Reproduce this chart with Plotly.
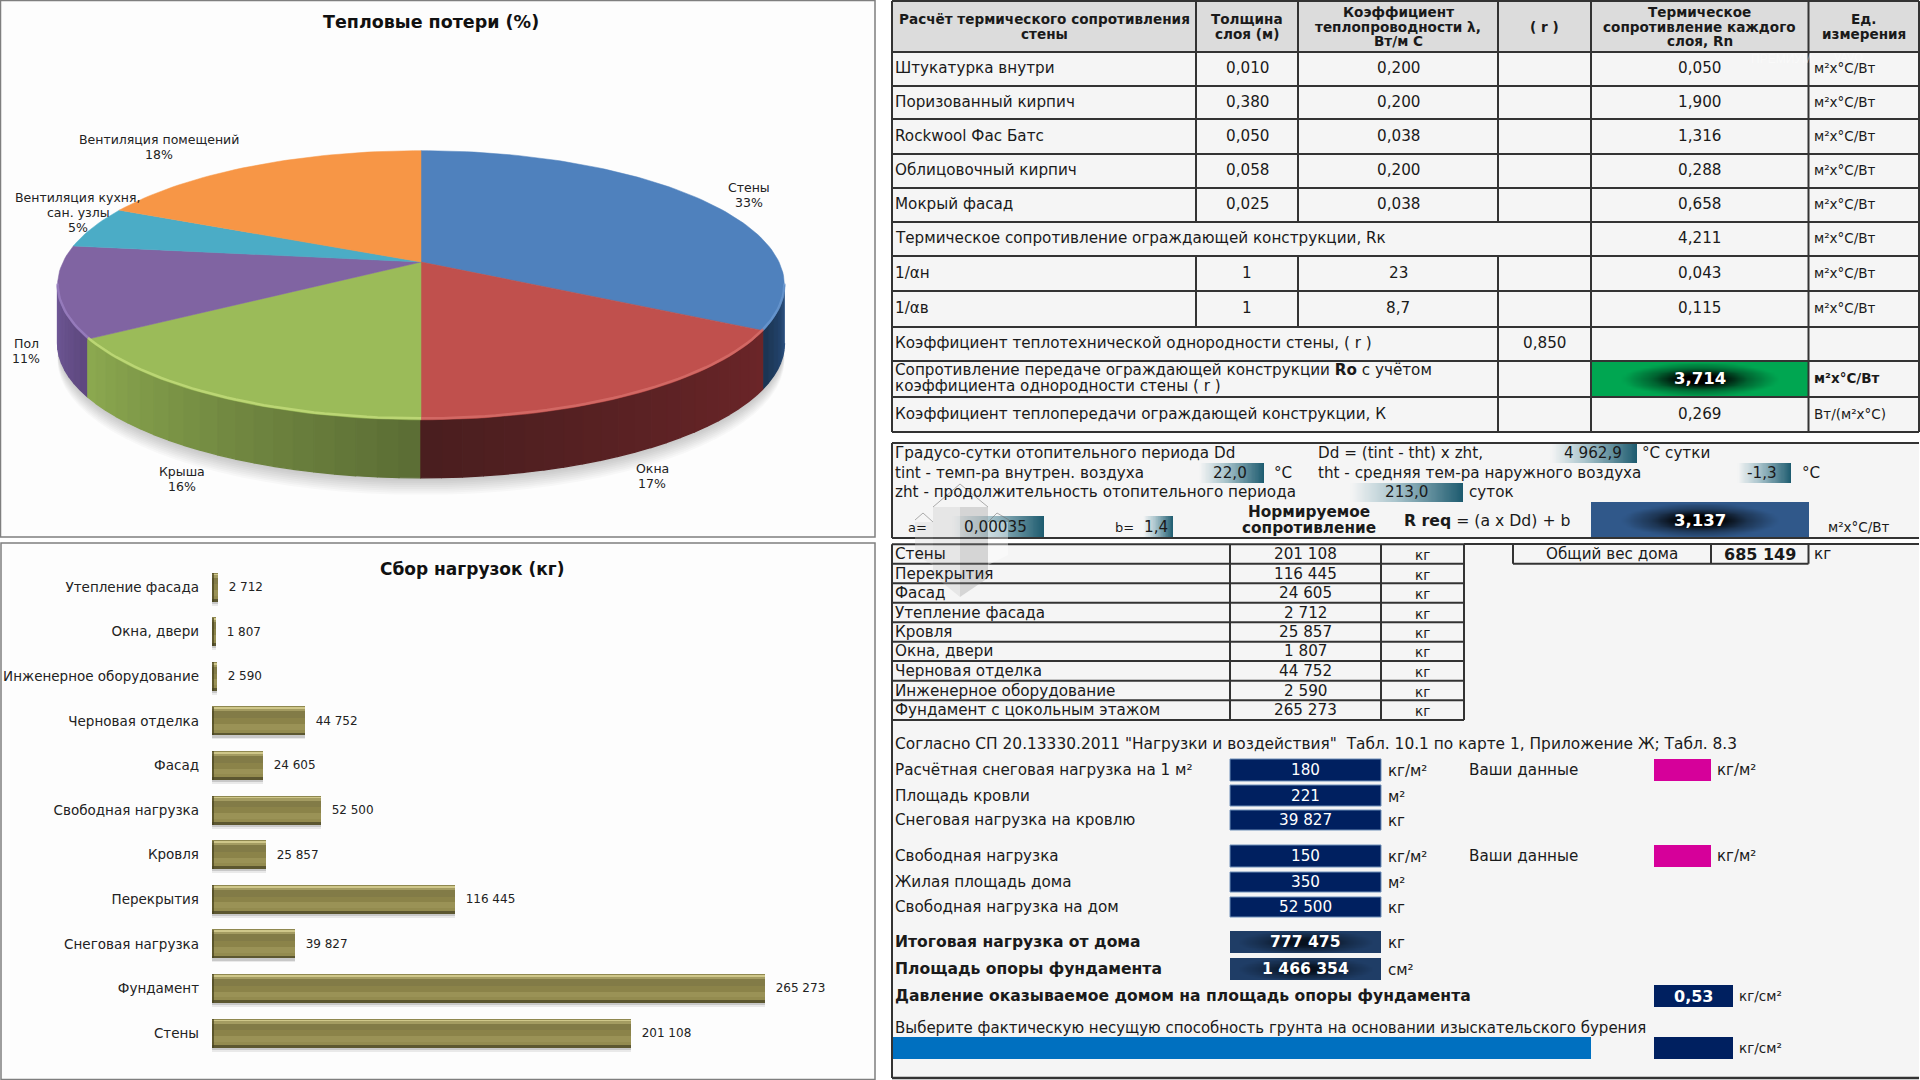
import math
import plotly.graph_objects as go

# ---------- data ----------
pie_labels = ["Стены", "Окна", "Крыша", "Пол", "Вентиляция кухня,<br>сан. узлы", "Вентиляция помещений"]
pie_values = [33, 17, 16, 11, 5, 18]

load_categories = ["Утепление фасада", "Окна, двери", "Инженерное оборудование", "Черновая отделка", "Фасад",
                   "Свободная нагрузка", "Кровля", "Перекрытия", "Снеговая нагрузка", "Фундамент", "Стены"]
load_values = [2712, 1807, 2590, 44752, 24605, 52500, 25857, 116445, 39827, 265273, 201108]

table_header = ["Расчёт термического сопротивления<br>стены", "Толщина<br>слоя (м)",
                "Коэффициент<br>теплопроводности λ,<br>Вт/м С", "( r )",
                "Термическое<br>сопротивление каждого<br>слоя, Rn", "Ед.<br>измерения"]
layer_names = ["Штукатурка внутри", "Поризованный кирпич", "Rockwool Фас Батс", "Облицовочный кирпич", "Мокрый фасад"]
layer_thickness = ["0,010", "0,380", "0,050", "0,058", "0,025"]
layer_lambda = ["0,200", "0,200", "0,038", "0,200", "0,038"]
layer_resistance = ["0,050", "1,900", "1,316", "0,288", "0,658"]
unit_r = "м²х°С/Вт"

weight_names = ["Стены", "Перекрытия", "Фасад", "Утепление фасада", "Кровля", "Окна, двери", "Черновая отделка",
                "Инженерное оборудование", "Фундамент с цокольным этажом"]
weight_values = ["201 108", "116 445", "24 605", "2 712", "25 857", "1 807", "44 752", "2 590", "265 273"]

# ---------- layout constants ----------
FONT = "DejaVu Sans"
INK = "#1a1a1a"
LINE = "#333333"
CELL = "#f5f5f5"
NAVY = "#002060"
BODY = 15.2
UNIT = 13.5

shapes, annotations, traces = [], [], []


def text(x, y, s, size=BODY, anchor="left", color=INK, lh=16, bold=False):
    lines = s.split("<br>")
    y0 = y - lh * (len(lines) - 1) / 2
    for i, ln in enumerate(lines):
        t = f"<b>{ln}</b>" if bold else ln
        annotations.append(dict(x=x, y=y0 + i * lh, xref="x", yref="y", text=t, showarrow=False, xanchor=anchor,
                                yanchor="middle", align=anchor,
                                font=dict(family=FONT, size=size, color=color)))


def rect(x0, y0, x1, y1, fill=None, line=None, width=2, layer="below"):
    shapes.append(dict(type="rect", xref="x", yref="y", x0=x0, y0=y0, x1=x1, y1=y1, layer=layer,
                       fillcolor=fill or "rgba(0,0,0,0)",
                       line=dict(color=line or "rgba(0,0,0,0)", width=width if line else 0)))


def hline(x0, x1, y, width=2, color=LINE):
    shapes.append(dict(type="line", xref="x", yref="y", x0=x0, x1=x1, y0=y, y1=y, layer="above",
                       line=dict(color=color, width=width)))


def vline(x, y0, y1, width=2, color=LINE):
    shapes.append(dict(type="line", xref="x", yref="y", x0=x, x1=x, y0=y0, y1=y1, layer="above",
                       line=dict(color=color, width=width)))


def hex2(c):
    c = c.lstrip("#")
    return [int(c[i:i + 2], 16) for i in (0, 2, 4)]


def mix(a, b, t):
    a, b = hex2(a), hex2(b)
    return "rgb(%d,%d,%d)" % tuple(round(a[i] + (b[i] - a[i]) * t) for i in range(3))


def gradient(x0, y0, x1, y1, zfun, scale, nx=48, ny=16):
    xs = [x0 + (i + 0.5) * (x1 - x0) / nx for i in range(nx)]
    ys = [y0 + (j + 0.5) * (y1 - y0) / ny for j in range(ny)]
    z = [[zfun((i + 0.5) / nx, (j + 0.5) / ny) for i in range(nx)] for j in range(ny)]
    traces.append(go.Heatmap(x=xs, y=ys, z=z, zmin=0, zmax=1, colorscale=scale, showscale=False, zsmooth="best",
                             hoverinfo="skip"))


def teal(x0, y0, x1, y1):
    gradient(x0, y0, x1, y1, lambda u, v: u, [[0, CELL], [0.4, "#a9c4cc"], [1, "#1c5a6e"]], ny=2)


def glow(x0, y0, x1, y1, edge, mid="#000000", rx=0.72, ry=0.95):
    def f(u, v):
        return min(1.0, math.sqrt(((u - 0.5) * 2 / rx) ** 2 + ((v - 0.5) * 2 / ry) ** 2))
    gradient(x0, y0, x1, y1, f, [[0, mid], [0.25, mid], [0.62, mix(mid, edge, 0.6)], [1, edge]])


# ---------- panels ----------
rect(0.5, 0.5, 875, 537, "#fdfdfd", "#7f7f7f", 1.5)
rect(1, 543, 875, 1079.5, "#fdfdfd", "#7f7f7f", 1.5)

# ---------- pie ----------
CX, CY, SX, SY, K, DEPTH = 421, 262, 358, 130.6, 0.1727, 58
VIS0, VIS1 = 27.75, 72.25


def proj(p, dy=0):
    th = 2 * math.pi * p / 100
    u, v = math.sin(th), math.cos(th)
    w = 1 + K * v
    return CX + SX * u / w, CY - SY * v / w + dy


def frange(a, b, step):
    n = max(1, int(math.ceil((b - a) / step)))
    return [a + (b - a) * i / n for i in range(n + 1)]


def poly(xs, ys, color, lw=0.6):
    traces.append(go.Scatter(x=xs, y=ys, mode="lines", fill="toself", fillcolor=color,
                             line=dict(color=color, width=lw), hoverinfo="skip"))


top_colors = ["#4f81bd", "#c0504d", "#9bbb59", "#8064a2", "#4bacc6", "#f79646"]
wall_start = ["#2a5080", "#6b2528", "#5c6e35", "#5f4880", "#2f7a90", "#b06a28"]
wall_end = ["#1b3554", "#4a1e1f", "#8ba84f", "#705a98", "#2f7a90", "#b06a28"]
rim_colors = ["#6c9ad2", "#d9716c", "#c6df7d", "#9c82c4", "#4bacc6", "#f79646"]

# shadow
all_pct = frange(0, 100, 1)
for i in range(1, 10):
    xs, ys = zip(*[proj(p, DEPTH + i * 1.9) for p in all_pct])
    poly(list(xs), list(ys), "rgba(0,0,0,0.022)", 0)

cum = [0]
for val in pie_values:
    cum.append(cum[-1] + val)

# walls: colour strips, painted from the silhouettes towards the front
strips = []
for i in range(len(pie_values)):
    a, b = max(cum[i], VIS0), min(cum[i + 1], VIS1)
    if a >= b:
        continue
    pts = frange(a, b, 0.8)
    for j in range(len(pts) - 1):
        t = j / max(1, len(pts) - 2)
        strips.append((pts[j], pts[j + 1], mix(wall_start[i], wall_end[i], t)))
strips.sort(key=lambda s: -abs((s[0] + s[1]) / 2 - 50))
for a, b, col in strips:
    top = [proj(a), proj(b)]
    bot = [proj(b, DEPTH), proj(a, DEPTH)]
    poly([q[0] for q in top + bot], [q[1] for q in top + bot], col, 1.4)

# top faces
for i in range(len(pie_values)):
    arc = [proj(p) for p in frange(cum[i], cum[i + 1], 0.4)]
    xs = [CX] + [q[0] for q in arc] + [CX]
    ys = [CY] + [q[1] for q in arc] + [CY]
    poly(xs, ys, top_colors[i], 0.5)

# rim highlight
for i in range(len(pie_values)):
    a, b = max(cum[i], VIS0), min(cum[i + 1], VIS1)
    if a >= b:
        continue
    arc = [proj(p, -1.5) for p in frange(a, b, 0.4)]
    traces.append(go.Scatter(x=[q[0] for q in arc], y=[q[1] for q in arc], mode="lines", opacity=0.75,
                             line=dict(color=rim_colors[i], width=2.5), hoverinfo="skip"))

text(431, 22, "Тепловые потери (%)", 17.5, "center", "#111111", bold=True)
pie_label_pos = [(749, 195), (652, 476), (182, 479), (26, 351), (78, 212), (159, 147)]
for lab, val, (px, py) in zip(pie_labels, pie_values, pie_label_pos):
    text(px, py, f"{lab}<br>{val}%", 12.5, "center", "#222222", lh=15)

# ---------- bars ----------
text(472, 569, "Сбор нагрузок (кг)", 17, "center", "#111111", bold=True)
value_text = ["  " + f"{v:,}".replace(",", " ") for v in load_values]
bands = [(0.0, 0.04, "#8f8850"), (0.04, 0.1, "#cfc78a"), (0.1, 0.16, "#a49c62"), (0.16, 0.4, "#827b47"),
         (0.4, 0.6, "#8b8349"), (0.6, 0.8, "#9a9256"), (0.8, 0.9, "#938b4f"), (0.9, 1.0, "#5c5730")]
H = 0.64
bar_traces = []
for off, wid, alpha in [(0.32, 0.09, 0.08), (0.32, 0.05, 0.14)]:
    bar_traces.append(go.Bar(y=load_categories, x=load_values, orientation="h", xaxis="x2", yaxis="y2",
                             width=wid, offset=off, marker=dict(color=f"rgba(0,0,0,{alpha})", line=dict(width=0)),
                             hoverinfo="skip"))
bar_traces.append(go.Bar(y=load_categories, x=load_values, orientation="h", xaxis="x2", yaxis="y2",
                         width=H, offset=-H / 2, marker=dict(color="#8b8450", line=dict(width=0)),
                         text=value_text, textposition="outside", cliponaxis=False, constraintext="none",
                         textfont=dict(family=FONT, size=12, color="#222222"), hoverinfo="skip"))
for f0, f1, col in bands:
    bar_traces.append(go.Bar(y=load_categories, x=load_values, orientation="h", xaxis="x2", yaxis="y2",
                             width=(f1 - f0) * H, offset=-H / 2 + f0 * H, marker=dict(color=col, line=dict(width=0)),
                             hoverinfo="skip"))
bar_traces.append(go.Bar(y=load_categories, x=[min(v, 1000) for v in load_values], orientation="h",
                         xaxis="x2", yaxis="y2", width=H, offset=-H / 2,
                         marker=dict(color="rgba(70,65,30,0.7)", line=dict(width=0)), hoverinfo="skip"))

# ---------- main table ----------
CX_L = [892, 1196, 1298, 1498, 1591, 1808.5, 1919]
RY = [1, 52, 86, 119, 154, 188, 222, 256, 291, 327, 361, 397, 432]
COLC = [(CX_L[i] + CX_L[i + 1]) / 2 for i in range(6)]
TX = 893
rect(CX_L[0], RY[0], CX_L[-1], RY[1], "#dcdcdc")
rect(CX_L[0], RY[1], CX_L[-1], RY[-1], CELL)
glow(CX_L[4], RY[10], CX_L[5], RY[11], "#00a651")
for y in RY:
    hline(CX_L[0], CX_L[-1], y)
merged = {6: [0, 4, 5, 6], 9: [0, 3, 4, 5, 6], 10: [0, 3, 4, 5, 6], 11: [0, 3, 4, 5, 6]}
for r in range(12):
    for c in merged.get(r, range(7)):
        vline(CX_L[c], RY[r], RY[r + 1])

hdr_y = (RY[0] + RY[1]) / 2
for c, h in enumerate(table_header):
    text(COLC[c], hdr_y, h, 13.6, "center", lh=14.3, bold=True)


def ry(r):
    return (RY[r] + RY[r + 1]) / 2 - 1


for i in range(5):
    text(TX, ry(i + 1), layer_names[i])
    text(COLC[1], ry(i + 1), layer_thickness[i], BODY, "center")
    text(COLC[2], ry(i + 1), layer_lambda[i], BODY, "center")
    text(COLC[4], ry(i + 1), layer_resistance[i], BODY, "center")
    text(CX_L[5] + 3, ry(i + 1), unit_r, UNIT)
text(TX, ry(6), "Термическое сопротивление ограждающей конструкции, Rк")
text(COLC[4], ry(6), "4,211", BODY, "center")
text(CX_L[5] + 3, ry(6), unit_r, UNIT)
for r, nm, a, b, res in [(7, "1/αн", "1", "23", "0,043"), (8, "1/αв", "1", "8,7", "0,115")]:
    text(TX, ry(r), nm)
    text(COLC[1], ry(r), a, BODY, "center")
    text(COLC[2], ry(r), b, BODY, "center")
    text(COLC[4], ry(r), res, BODY, "center")
    text(CX_L[5] + 3, ry(r), unit_r, UNIT)
text(TX, ry(9), "Коэффициент теплотехнической однородности стены, ( r )")
text(COLC[3], ry(9), "0,850", BODY, "center")
text(TX, ry(10), "Сопротивление передаче ограждающей конструкции <b>Ro</b> с учётом<br>коэффициента однородности стены ( r )")
text(COLC[4], ry(10), "3,714", 16.5, "center", "#ffffff", bold=True)
text(CX_L[5] + 3, ry(10), unit_r, UNIT, bold=True)
text(TX, ry(11), "Коэффициент теплопередачи ограждающей конструкции, К")
text(COLC[4], ry(11), "0,269", BODY, "center")
text(CX_L[5] + 3, ry(11), "Вт/(м²х°С)", UNIT)

# ---------- degree-day panel ----------
rect(892, 443, 1919, 538, CELL, None)
teal(1550, 443, 1637, 463)
teal(1199, 463, 1264, 483)
teal(1737, 463, 1791, 483)
teal(1350, 483, 1463, 502)
teal(952, 516, 1044, 538)
teal(1143, 516, 1173, 538)
glow(1591, 502, 1808.5, 538, "#30588a")
hline(892, 1919, 443)
hline(892, 1919, 538)
vline(892, 443, 538)
text(TX, 453, "Градусо-сутки отопительного периода Dd")
text(1316, 453, "Dd = (tint - tht) x zht,")
text(1593, 453, "4 962,9", BODY, "center")
text(1640, 453, "°С сутки")
text(TX, 473, "tint - темп-ра внутрен. воздуха")
text(1230, 473, "22,0", BODY, "center")
text(1272, 473, "°С")
text(1316, 473, "tht - средняя тем-ра наружного воздуха")
text(1762, 473, "-1,3", BODY, "center")
text(1800, 473, "°С")
text(TX, 492, "zht - продолжительность отопительного периода")
text(1406, 492, "213,0", BODY, "center")
text(1467, 492, "суток")
text(906, 527, "a=", 13)
text(995, 527, "0,00035", BODY, "center")
text(1113, 527, "b=", 13)
text(1156, 527, "1,4", BODY, "center")
text(1309, 520, "Нормируемое<br>сопротивление", 15.3, "center", lh=16, bold=True)
text(1402, 520, "<b>R req</b> = (a x Dd) + b", 15.7)
text(1700, 520, "3,137", 16.5, "center", "#ffffff", bold=True)
text(1826, 527, unit_r, UNIT)

# ---------- weights + snow panel ----------
rect(892, 544, 1919, 1078, CELL)
WX = [892, 1230, 1381, 1464]
WY = [544.3, 563.7, 583.3, 602.7, 622.3, 641.7, 661, 680.7, 700.3, 720]
for y in WY:
    hline(WX[0], WX[-1], y)
for x in WX:
    vline(x, WY[0], WY[-1])
hline(1464, 1919, 544)
vline(892, 720, 1078)
hline(892, 1919, 1078, 2.5)
for i, (nm, val) in enumerate(zip(weight_names, weight_values)):
    y = (WY[i] + WY[i + 1]) / 2
    text(TX, y, nm)
    text((WX[1] + WX[2]) / 2, y, val, BODY, "center")
    text((WX[2] + WX[3]) / 2, y + 1, "кг", 13.5, "center")
BX = [1513, 1711, 1808.5]
hline(BX[0], BX[2], 563.7)
for x in BX:
    vline(x, 544, 563.7)
text((BX[0] + BX[1]) / 2, 554, "Общий вес дома", BODY, "center")
text((BX[1] + BX[2]) / 2, 554, "685 149", 16, "center", bold=True)
text(1812, 554, "кг")

text(TX, 744, "Согласно СП 20.13330.2011 \"Нагрузки и воздействия\"  Табл. 10.1 по карте 1, Приложение Ж; Табл. 8.3", 15.4)

snow_rows = [("Расчётная снеговая нагрузка на 1 м²", "180", "кг/м²", 759, 781),
             ("Площадь кровли", "221", "м²", 785, 806),
             ("Снеговая нагрузка на кровлю", "39 827", "кг", 810, 830),
             ("Свободная нагрузка", "150", "кг/м²", 845, 867),
             ("Жилая площадь дома", "350", "м²", 872, 892),
             ("Свободная нагрузка на дом", "52 500", "кг", 897, 917)]
for lab, val, unit, y0, y1 in snow_rows:
    rect(1230, y0, 1381, y1, NAVY, "#6f8fb8", 1)
    text(TX, (y0 + y1) / 2, lab)
    text(1305.5, (y0 + y1) / 2, val, BODY, "center", "#ffffff")
    text(1386, (y0 + y1) / 2 + 1, unit, 15)
for y0, y1 in [(759, 781), (845, 867)]:
    rect(1654, y0, 1711, y1, "#d6009a")
    text(1467, (y0 + y1) / 2, "Ваши данные")
    text(1715, (y0 + y1) / 2, "кг/м²", 15)
for lab, val, unit, y0, y1 in [("Итоговая нагрузка от дома", "777 475", "кг", 931, 953),
                               ("Площадь опоры фундамента", "1 466 354", "см²", 958, 980)]:
    glow(1230, y0, 1381, y1, "#1f3d66", "#06101e", rx=0.9, ry=1.1)
    text(TX, (y0 + y1) / 2, lab, 15.6, bold=True)
    text(1305.5, (y0 + y1) / 2, val, 15.6, "center", "#ffffff", bold=True)
    text(1386, (y0 + y1) / 2 + 1, unit, 15)
text(TX, 996, "Давление оказываемое домом на площадь опоры фундамента", 15.6, bold=True)
rect(1654, 985, 1733, 1007, NAVY)
text(1693.5, 996, "0,53", 16, "center", "#ffffff", bold=True)
text(1737, 996, "кг/см²", UNIT)
text(TX, 1028, "Выберите фактическую несущую способность грунта на основании изыскательского бурения", 15)
rect(892, 1037, 1591, 1059, "#0070c0")
rect(1654, 1037, 1733, 1059, NAVY)
text(1737, 1048, "кг/см²", UNIT)

# ---------- faint watermarks ----------
for path, col, ln in [("M 933 507 L 960 507 L 960 597 L 933 575 Z", "rgba(190,190,190,0.28)", None),
                      ("M 960 507 L 988 507 L 988 578 L 960 597 Z", "rgba(140,140,140,0.3)", None),
                      ("M 915 522 L 933 522 L 933 565 L 915 555 Z", "rgba(210,210,210,0.3)", None),
                      ("M 988 522 L 1008 522 L 1008 555 L 988 565 Z", "rgba(255,255,255,0.4)", None),
                      ("M 933 507 L 960 484 L 988 507", "rgba(0,0,0,0)", "rgba(110,110,110,0.55)"),
                      ("M 915 520 L 923 513 L 933 522", "rgba(0,0,0,0)", "rgba(110,110,110,0.55)"),
                      ("M 988 522 L 997 513 L 1009 520", "rgba(0,0,0,0)", "rgba(110,110,110,0.55)")]:
    shapes.append(dict(type="path", path=path, xref="x", yref="y", layer="above", fillcolor=col,
                       line=dict(width=1 if ln else 0, color=ln or "rgba(0,0,0,0)")))
for wm, wx, wy, ws in [("ПРЕМИУМ", 1781, 59, 12), ("VAVO", 1848, 57, 11)]:
    annotations.append(dict(x=wx, y=wy, xref="x", yref="y", text=wm, showarrow=False, opacity=0.45,
                            font=dict(family="Liberation Sans Narrow, Liberation Sans", size=ws, color="#ffffff")))

# ---------- figure ----------
fig = go.Figure(traces + bar_traces)
fig.update_layout(
    width=1920, height=1080, margin=dict(l=0, r=0, t=0, b=0), paper_bgcolor="#ffffff",
    plot_bgcolor="rgba(0,0,0,0)", showlegend=False, barmode="overlay", bargap=0,
    shapes=shapes, annotations=annotations,
    xaxis=dict(range=[0, 1920], domain=[0, 1], visible=False, fixedrange=True),
    yaxis=dict(range=[1080, 0], domain=[0, 1], visible=False, fixedrange=True),
    xaxis2=dict(range=[0, 300000], domain=[212 / 1920, 837.4 / 1920], anchor="y2", visible=False, fixedrange=True),
    yaxis2=dict(type="category", categoryorder="array", categoryarray=load_categories, range=[10.5, -0.5],
                domain=[1 - 1055.3 / 1080, 1 - 564.7 / 1080], anchor="x2", showgrid=False, zeroline=False,
                showline=False, ticks="", fixedrange=True, ticklabelstandoff=12,
                tickfont=dict(family=FONT, size=13.5, color="#222222")),
)
fig.write_html("out.html", config=dict(displayModeBar=False),
               post_script="document.body.style.margin='0';document.documentElement.style.overflow='hidden';")
